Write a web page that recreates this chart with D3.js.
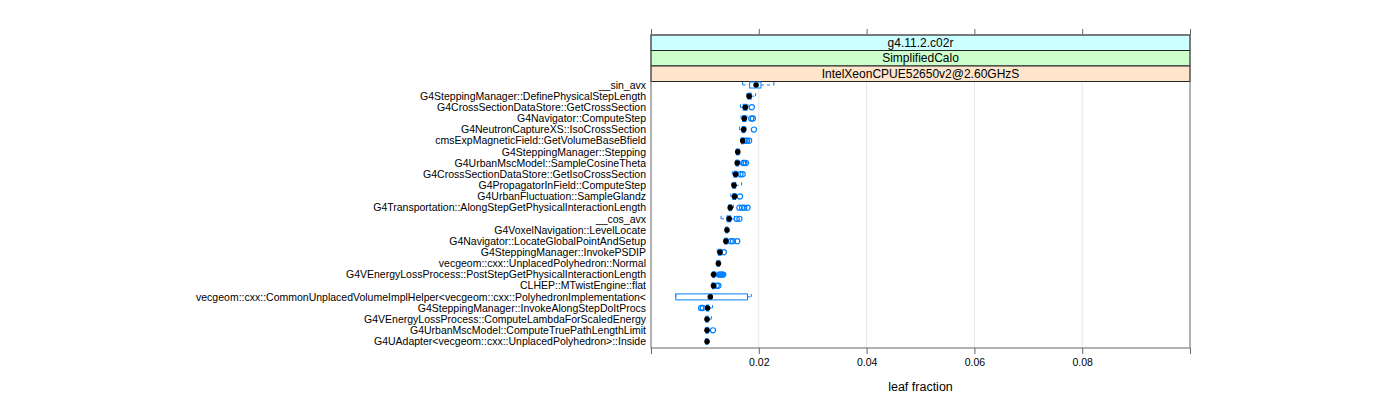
<!DOCTYPE html>
<html><head><meta charset="utf-8">
<script src="https://cdn.jsdelivr.net/npm/d3@7"></script>
<style>body{margin:0;background:#fff}svg{display:block}</style>
</head><body>
<script>
const labels = ["__sin_avx","G4SteppingManager::DefinePhysicalStepLength","G4CrossSectionDataStore::GetCrossSection","G4Navigator::ComputeStep","G4NeutronCaptureXS::IsoCrossSection","cmsExpMagneticField::GetVolumeBaseBfield","G4SteppingManager::Stepping","G4UrbanMscModel::SampleCosineTheta","G4CrossSectionDataStore::GetIsoCrossSection","G4PropagatorInField::ComputeStep","G4UrbanFluctuation::SampleGlandz","G4Transportation::AlongStepGetPhysicalInteractionLength","__cos_avx","G4VoxelNavigation::LevelLocate","G4Navigator::LocateGlobalPointAndSetup","G4SteppingManager::InvokePSDIP","vecgeom::cxx::UnplacedPolyhedron::Normal","G4VEnergyLossProcess::PostStepGetPhysicalInteractionLength","CLHEP::MTwistEngine::flat","vecgeom::cxx::CommonUnplacedVolumeImplHelper<vecgeom::cxx::PolyhedronImplementation<","G4SteppingManager::InvokeAlongStepDoItProcs","G4VEnergyLossProcess::ComputeLambdaForScaledEnergy","G4UrbanMscModel::ComputeTruePathLengthLimit","G4UAdapter<vecgeom::cxx::UnplacedPolyhedron>::Inside"];
const whiskerLow  = [0.0170,0.0178,0.0166,0.0167,0.0164,0.0167,0.0158,0.0157,0.0151,0.0150,0.0148,0.0144,0.0130,0.0138,0.0136,0.0123,0.0122,0.0114,0.0113,0.0046,0.0102,0.0101,0.0101,0.0101];
const q1          = [0.0183,0.0180,0.0171,0.0170,0.0169,0.0168,0.0159,0.0158,0.0154,0.0152,0.0152,0.0145,0.0141,0.0139,0.0137,0.0125,0.0123,0.0115,0.0114,0.0046,0.0103,0.0102,0.0102,0.0102];
const median      = [0.0195,0.0182,0.0175,0.0173,0.0172,0.0170,0.0161,0.0160,0.0157,0.0154,0.0155,0.0147,0.0145,0.0141,0.0139,0.0128,0.0125,0.0116,0.0116,0.0110,0.0105,0.0104,0.0104,0.0104];
const q3          = [0.0204,0.0186,0.0178,0.0176,0.0174,0.0172,0.0163,0.0162,0.0159,0.0157,0.0157,0.0149,0.0148,0.0142,0.0141,0.0130,0.0127,0.0118,0.0117,0.0179,0.0107,0.0106,0.0106,0.0105];
const whiskerHigh = [0.0228,0.0194,0.0180,0.0178,0.0176,0.0173,0.0164,0.0164,0.0161,0.0168,0.0159,0.0153,0.0155,0.0143,0.0142,0.0132,0.0128,0.0120,0.0118,0.0186,0.0114,0.0112,0.0107,0.0106];
const outliers    = [[],[],[0.0187],[0.0186,0.0189],[0.0191],[0.0175,0.0178,0.0182],[],[0.0171,0.0173,0.0176],[0.0166,0.0170],[],[0.0165],[0.0164,0.0169,0.0173,0.0179],[0.0159,0.0164],[],[0.0148,0.0152,0.0160],[0.0135],[],[0.0126,0.0128,0.0130,0.0132,0.0134],[0.0122,0.0125],[],[0.0093,0.0096],[],[0.0115],[]];
const strips = ["g4.11.2.c02r","SimplifiedCalo","IntelXeonCPUE52650v2@2.60GHzS"];
const stripColors = ["#ccffff","#ccffcc","#ffe5cc"];
const xTicks = [0.02,0.04,0.06,0.08];
const xEdges = [0, 0.1];
const xTitle = "leaf fraction";

const W=1400,H=400;
const L=651,R=1190,T=35,stripH=15.5,B=348;
const plotTop=T+stripH*strips.length;
const svg=d3.select("body").append("svg").attr("width",W).attr("height",H);
const x=d3.scaleLinear().domain([0,0.1]).range([L,R]);
const y=d3.scalePoint().domain(labels).range([85,341.5]);
const blue="#0080ff";
const font="'Liberation Sans', Arial, sans-serif";

// gridlines
svg.append("g").selectAll("line").data(xTicks).join("line")
 .attr("x1",d=>x(d)).attr("x2",d=>x(d)).attr("y1",plotTop).attr("y2",B)
 .attr("stroke","#e6e6e6").attr("stroke-width",1);

// strips
strips.forEach((s,i)=>{
  const g=svg.append("g");
  g.append("rect").attr("x",L).attr("y",T+i*stripH).attr("width",R-L).attr("height",stripH)
   .attr("fill",stripColors[i]).attr("stroke","#222").attr("stroke-width",1);
  g.append("text").attr("x",(L+R)/2).attr("y",T+i*stripH+stripH/2+4).attr("text-anchor","middle")
   .attr("font-family",font).attr("font-size",12).attr("fill","#000").text(s);
});

// boxes
const bh=6;
const rows=svg.append("g").selectAll("g").data(labels).join("g").attr("transform",d=>`translate(0,${y(d)})`);
rows.append("line").attr("x1",(d,i)=>x(whiskerLow[i])).attr("x2",(d,i)=>x(q1[i])).attr("stroke",blue).attr("stroke-dasharray","3,3");
rows.append("line").attr("x1",(d,i)=>x(q3[i])).attr("x2",(d,i)=>x(whiskerHigh[i])).attr("stroke",blue).attr("stroke-dasharray","3,3");
rows.append("line").attr("x1",(d,i)=>x(whiskerLow[i])).attr("x2",(d,i)=>x(whiskerLow[i])).attr("y1",-bh/2).attr("y2",bh/2).attr("stroke",blue).attr("stroke-dasharray","3,3");
rows.append("line").attr("x1",(d,i)=>x(whiskerHigh[i])).attr("x2",(d,i)=>x(whiskerHigh[i])).attr("y1",-bh/2).attr("y2",bh/2).attr("stroke",blue).attr("stroke-dasharray","3,3");
rows.append("rect").attr("x",(d,i)=>x(q1[i])).attr("width",(d,i)=>x(q3[i])-x(q1[i])).attr("y",-bh/2).attr("height",bh)
 .attr("fill","none").attr("stroke",blue);
rows.each(function(d,i){
  d3.select(this).selectAll("circle.o").data(outliers[i]).join("circle").attr("class","o")
   .attr("cx",v=>x(v)).attr("cy",0).attr("r",2.6).attr("fill","none").attr("stroke",blue).attr("stroke-width",1.2);
});
rows.append("circle").attr("cx",(d,i)=>x(median[i])).attr("cy",0).attr("r",2.8).attr("fill","#000");

// y labels
svg.append("g").selectAll("text").data(labels).join("text")
 .attr("x",L-5).attr("y",d=>y(d)+3.7).attr("text-anchor","end")
 .attr("font-family",font).attr("font-size",10.5).attr("fill","#000").text(d=>d);

// frame
svg.append("rect").attr("x",L).attr("y",T).attr("width",R-L).attr("height",B-T).attr("fill","none").attr("stroke","#666");

// x axis bottom & top
svg.append("g").attr("transform",`translate(0,${B})`)
 .call(d3.axisBottom(x).tickValues(xTicks).tickSize(6).tickPadding(5).tickFormat(d3.format(".2f")));
svg.append("g").attr("transform",`translate(0,${T})`)
 .call(d3.axisTop(x).tickValues(xTicks).tickSize(6).tickFormat(""));
svg.append("g").attr("transform",`translate(0,${B})`).call(d3.axisBottom(x).tickValues(xEdges).tickSize(6).tickFormat(""));
svg.append("g").attr("transform",`translate(0,${T})`).call(d3.axisTop(x).tickValues(xEdges).tickSize(6).tickFormat(""));
svg.selectAll(".domain").remove();
svg.selectAll(".tick line").attr("stroke","#666");
svg.selectAll(".tick text").attr("font-family",font).attr("font-size",10.5).attr("fill","#000");

svg.append("text").attr("x",(L+R)/2).attr("y",391).attr("text-anchor","middle")
 .attr("font-family",font).attr("font-size",12.5).attr("fill","#000").text(xTitle);
</script>
</body></html>
